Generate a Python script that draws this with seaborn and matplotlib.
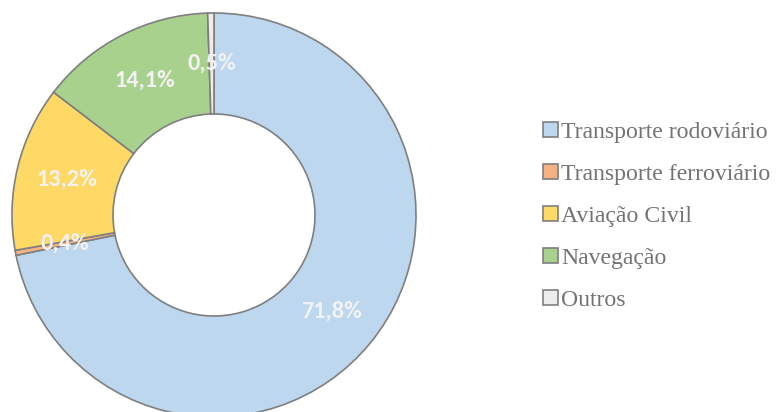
import matplotlib
matplotlib.use("Agg")
import matplotlib.pyplot as plt
from matplotlib import font_manager
from matplotlib.patches import Patch
import numpy as np
import seaborn as sns

# dados (participação por modo de transporte, %)
categorias = ["Transporte rodoviário", "Transporte ferroviário", "Aviação Civil",
              "Navegação", "Outros"]
valores = [71.8, 0.4, 13.2, 14.1, 0.5]
rotulos = ["71,8%", "0,4%", "13,2%", "14,1%", "0,5%"]
cores = ["#BDD7EE", "#F4B183", "#FFD966", "#A9D18E", "#EDEDED"]

sns.set_theme(style="white")
plt.rcParams["font.serif"] = ["Liberation Serif", "DejaVu Serif"]

fig = plt.figure(figsize=(7.78, 4.12), dpi=100)
W, H = 778, 412
cx, cy, r = 214, 215, 202
ax = fig.add_axes([(cx - r) / W, (H - cy - r) / H, 2 * r / W, 2 * r / H])

ax.pie(valores, colors=cores, startangle=90, counterclock=False, radius=1,
       wedgeprops=dict(width=0.5, edgecolor="#7F7F7F", linewidth=1.2))

# rótulos no meio do anel
ang0 = 90.0
total = sum(valores)
for v, txt in zip(valores, rotulos):
    meio = ang0 - v / total * 180
    ang0 -= v / total * 360
    x = 0.75 * np.cos(np.radians(meio))
    y = 0.75 * np.sin(np.radians(meio))
    ax.text(x, y, txt, ha="center", va="center", color="#F2F2F2",
            fontsize=17.5, fontweight="bold", family=["Carlito", "Lato", "DejaVu Sans"])

ax.set_xlim(-1, 1)
ax.set_ylim(-1, 1)
ax.set_aspect("auto")
ax.axis("off")

fonte_leg = font_manager.FontProperties(family="serif", size=17.1)
handles = [Patch(facecolor=c, edgecolor="#7F7F7F", linewidth=1.2) for c in cores]
leg = fig.legend(handles, categorias, loc="upper left",
                 bbox_to_anchor=(543 / W, 1 - 122 / H), frameon=False,
                 prop=fonte_leg,
                 handlelength=0.62, handleheight=0.62, handletextpad=0.15,
                 labelspacing=0.88, borderpad=0, borderaxespad=0)
for t in leg.get_texts():
    t.set_color("#737373")

fig.savefig("out.png", dpi=100)
